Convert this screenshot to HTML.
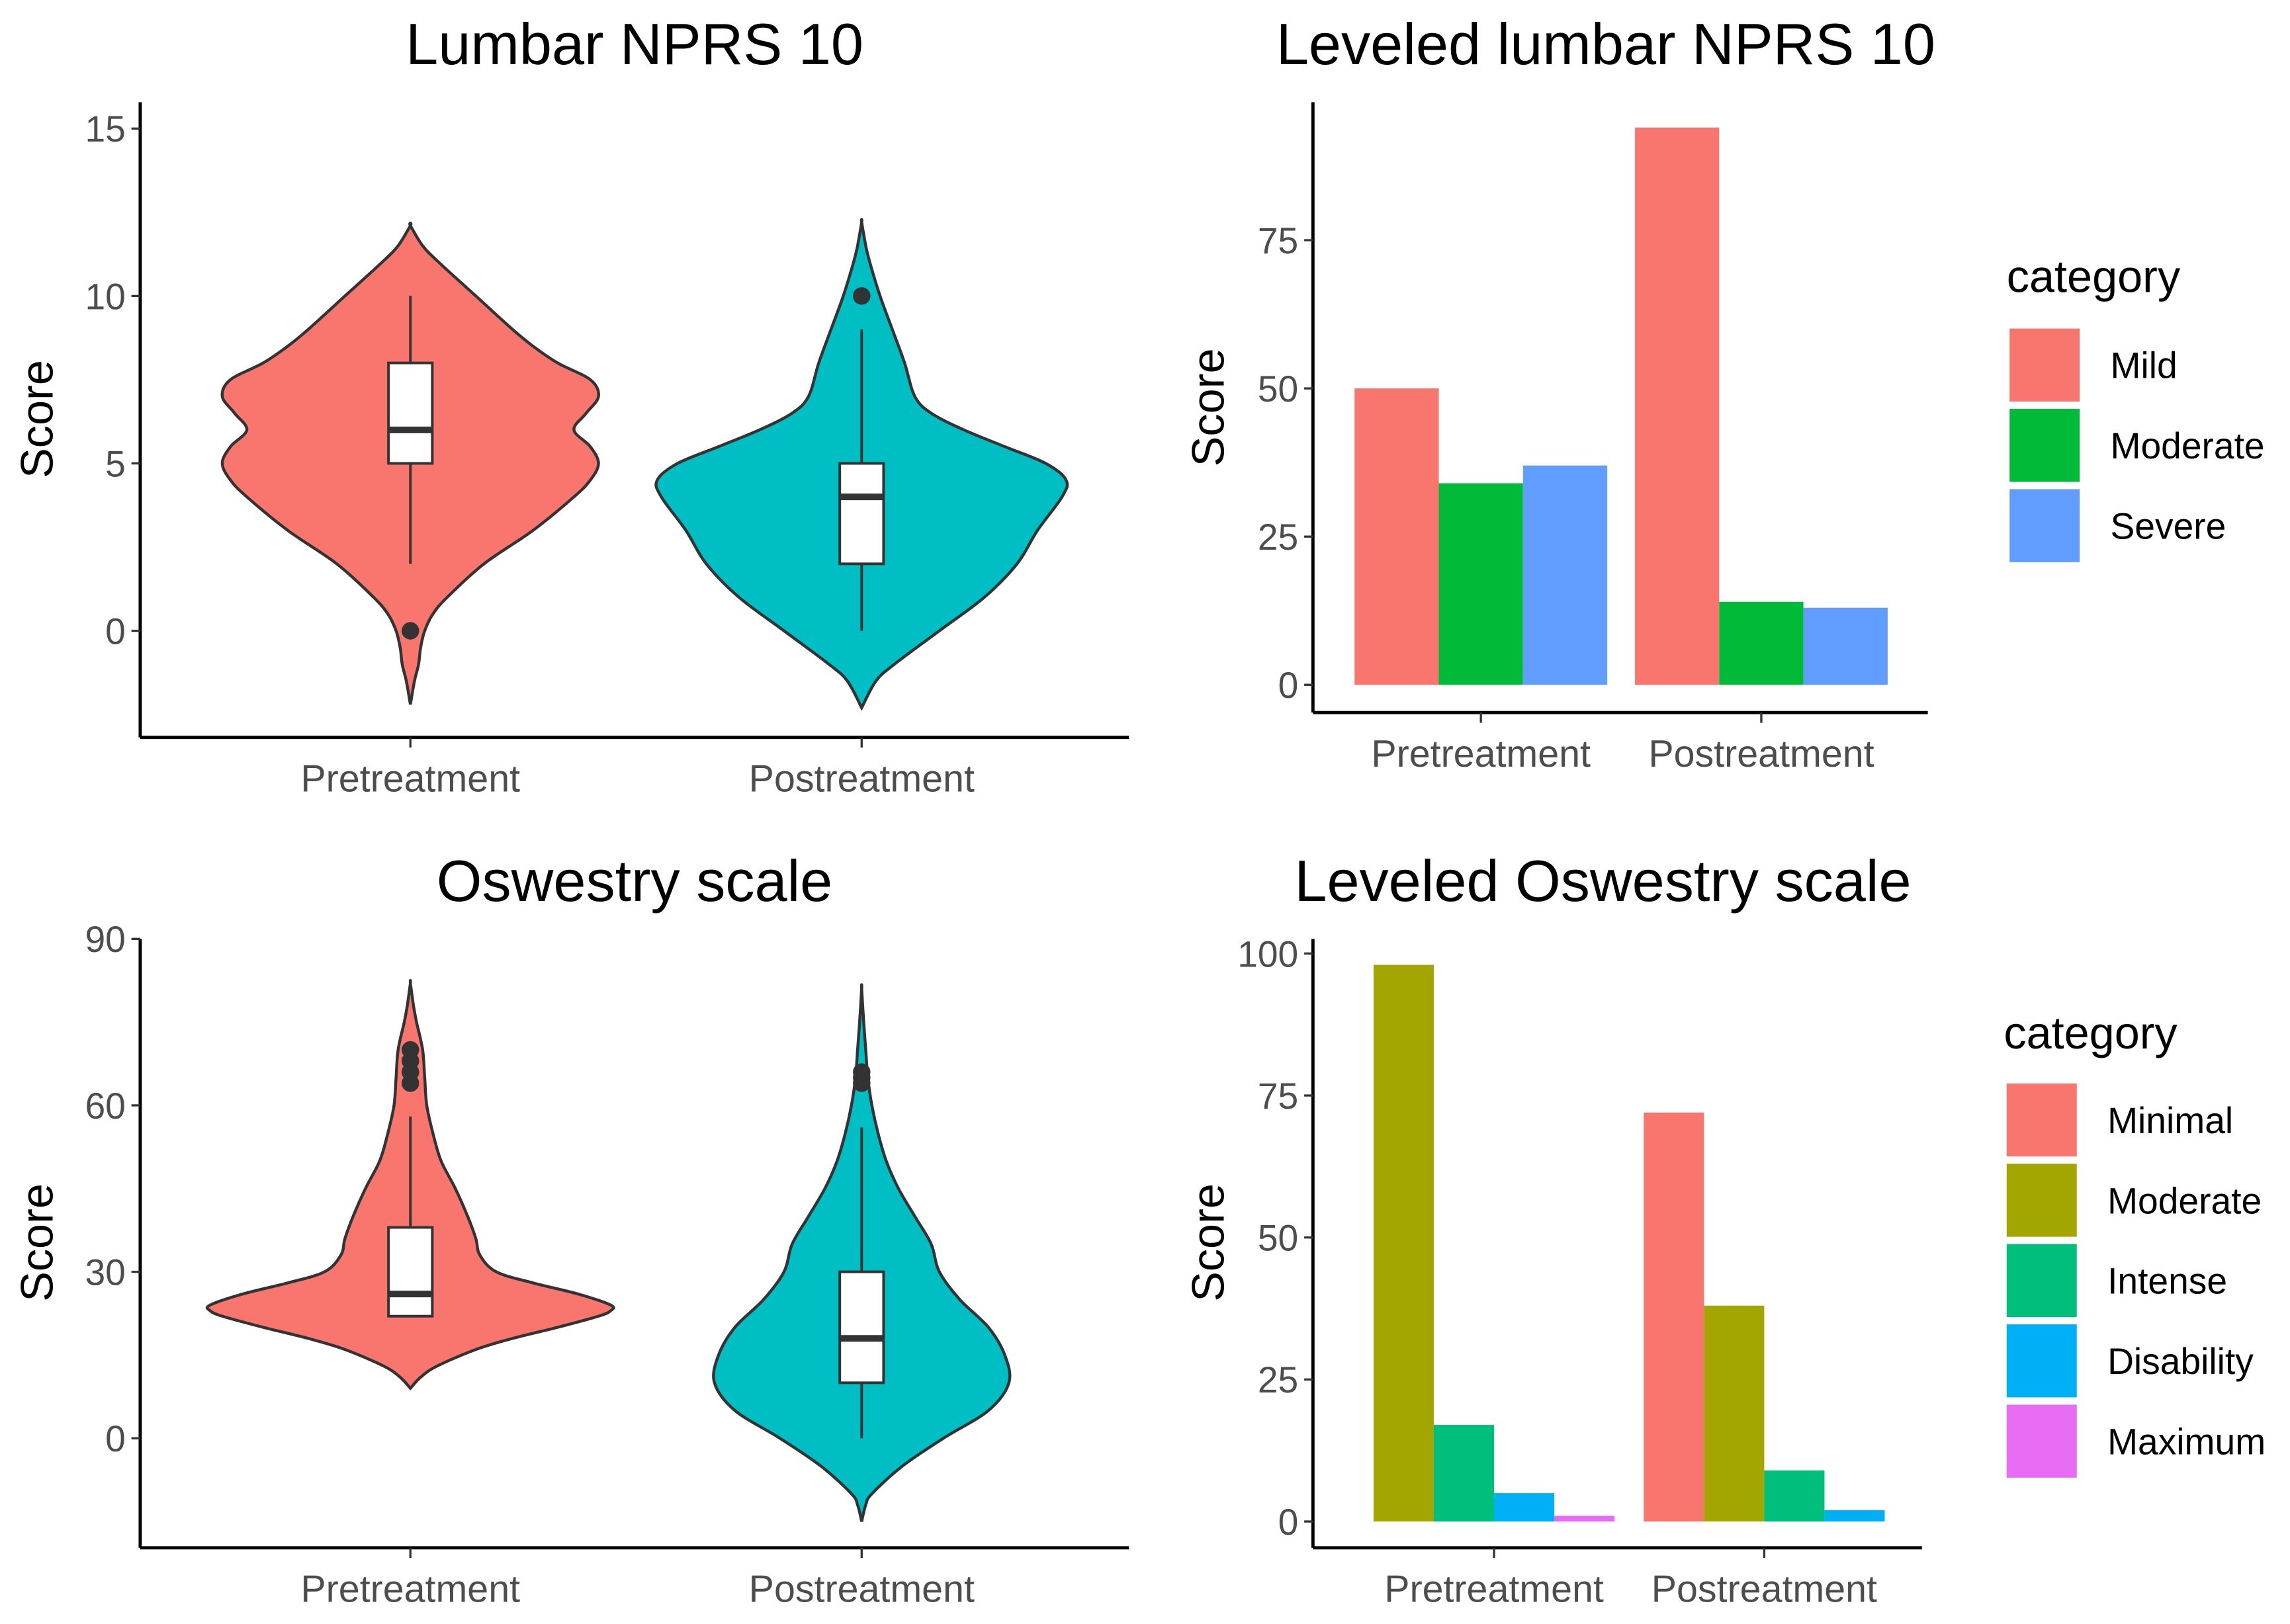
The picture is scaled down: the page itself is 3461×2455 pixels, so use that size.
<!DOCTYPE html>
<html><head><meta charset="utf-8"><style>
html,body{margin:0;padding:0;background:#fff;}
svg{display:block;}
text{font-family:"Liberation Sans",sans-serif;}
</style></head><body>
<svg id="c" width="3461" height="2455" viewBox="0 0 1568 1112.2" preserveAspectRatio="none" xmlns="http://www.w3.org/2000/svg"></svg>
<script>
// ---- Data ----
const groups = ["Pretreatment","Postreatment"];
const nprsPreY = [-2.2,-1.5,-1,-0.5,0,0.5,1,2,3,4,4.5,5,5.5,6,6.5,7,7.5,8,8.5,9,10,11,11.5,12.1];
const nprsPreD = [0,0.02,0.04,0.05,0.07,0.11,0.18,0.36,0.6,0.8,0.88,0.92,0.88,0.8,0.86,0.92,0.88,0.72,0.6,0.5,0.32,0.14,0.06,0];
const nprsPostY = [-2.3,-1.5,-1,0,1,2,3,4,4.5,5,5.5,6,6.5,7,8,9,10,11,11.5,12.2];
const nprsPostD = [0,0.07,0.16,0.38,0.6,0.76,0.86,0.98,1.0,0.9,0.7,0.5,0.34,0.26,0.21,0.15,0.09,0.04,0.02,0];
const nprsBox = [{lo:2,q1:5,med:6,q3:8,hi:10,out:[0]},{lo:0,q1:2,med:4,q3:5,hi:9,out:[10]}];
const oswPreY = [9,11,13,16,18,20,22,23,24,26,28,30,33,36,40,45,50,55,60,65,70,75,78,82];
const oswPreD = [0,0.05,0.13,0.32,0.5,0.72,0.92,0.98,0.98,0.82,0.6,0.42,0.34,0.32,0.28,0.22,0.15,0.11,0.08,0.07,0.06,0.03,0.015,0];
const oswPostY = [-15,-12,-10,-5,0,5,10,15,20,25,30,35,40,45,50,55,60,65,70,75,81];
const oswPostD = [0,0.02,0.05,0.2,0.4,0.62,0.72,0.7,0.62,0.48,0.38,0.34,0.26,0.18,0.12,0.08,0.05,0.03,0.02,0.01,0];
const oswBox = [{lo:22,q1:22,med:26,q3:38,hi:58,out:[64,66,68,70]},{lo:0,q1:10,med:18,q3:30,hi:56,out:[64,65,66]}];
const nprsCats = ["Mild","Moderate","Severe"];
const nprsColors = ["#F8766D","#00BA38","#619CFF"];
const nprsPre = [50,34,37];
const nprsPost = [94,14,13];
const oswCats = ["Minimal","Moderate","Intense","Disability","Maximum"];
const oswColors = ["#F8766D","#A3A500","#00BF7D","#00B0F6","#E76BF3"];
const oswPre = [0,98,17,5,1];
const oswPost = [72,38,9,2,0];

const svg = document.getElementById('c');
const NS = "http://www.w3.org/2000/svg";
function el(tag, attrs, parent){
  const e = document.createElementNS(NS, tag);
  for (const k in attrs) e.setAttribute(k, attrs[k]);
  (parent||svg).appendChild(e);
  return e;
}
function txt(s, x, y, size, fill, anchor, name, rot){
  const t = el('text', {x:x, y:y, 'font-size':size, fill:fill, 'text-anchor':anchor||'middle'});
  if (rot) t.setAttribute('transform', 'rotate(-90 '+x+' '+y+')');
  
  
  t.textContent = s;
  return t;
}
function line(x1,y1,x2,y2,w,name,col){
  const l = el('line',{x1:x1,y1:y1,x2:x2,y2:y2,stroke:col||'#000','stroke-width':w});
  
  
  return l;
}
function axes(x0, yTop, yBot, xEnd, ticks, yScale, catX, title, titleY, prefix){
  txt(title, (x0+xEnd)/2+ (prefix.startsWith('lv')?-10:0), titleY, 40, '#000', 'middle', prefix+'-title');
  line(x0, yTop, x0, yBot, 2.2, prefix+'-y-axis');
  line(x0, yBot, xEnd, yBot, 2.2, prefix+'-x-axis');
  ticks.forEach(v=>{
    const y = yScale(v);
    line(x0-6, y, x0, y, 1.5, prefix+'-y-tick', '#333');
    txt(String(v), x0-10, y+9, 25, '#4d4d4d', 'end', prefix+'-y-tick-label');
  });
  catX.forEach((cx,i)=>{
    line(cx, yBot, cx, yBot+7, 1.5, prefix+'-x-tick', '#333');
    txt(groups[i], cx, yBot+37, 26, '#4d4d4d', 'middle', prefix+'-x-tick-label');
  });
}
function violin(cx, ys, ds, yScale, halfMax, fill, name){
  let pts = [];
  for (let i=0;i<ys.length;i++) pts.push([cx + ds[i]*halfMax, yScale(ys[i])]);
  for (let i=ys.length-1;i>=0;i--) pts.push([cx - ds[i]*halfMax, yScale(ys[i])]);
  let d = 'M'+pts[0][0]+','+pts[0][1];
  for (let i=0;i<pts.length-1;i++){
    const p0=pts[Math.max(i-1,0)], p1=pts[i], p2=pts[i+1], p3=pts[Math.min(i+2,pts.length-1)];
    const c1=[p1[0]+(p2[0]-p0[0])/6, p1[1]+(p2[1]-p0[1])/6];
    const c2=[p2[0]-(p3[0]-p1[0])/6, p2[1]-(p3[1]-p1[1])/6];
    d += ' C'+c1[0]+','+c1[1]+' '+c2[0]+','+c2[1]+' '+p2[0]+','+p2[1];
  }
  d += 'Z';
  const p = el('path',{d:d, fill:fill, stroke:'#333', 'stroke-width':2});
  
  
}
function boxplot(cx, b, yScale, name){
  line(cx, yScale(b.hi), cx, yScale(b.lo), 1.8, name+'-whisker', '#333');
  const r = el('rect',{x:cx-15, y:yScale(b.q3), width:30, height:yScale(b.q1)-yScale(b.q3), fill:'#fff', stroke:'#333','stroke-width':1.8});
  
  
  line(cx-15, yScale(b.med), cx+15, yScale(b.med), 4.5, name+'-median', '#333');
  b.out.forEach(v=>{
    const c = el('circle',{cx:cx, cy:yScale(v), r:6, fill:'#333'});
    
    
  });
}
function bars(catX, width, vals, colors, yScale, name){
  catX.forEach((cx,gi)=>{
    const v = vals[gi];
    const idx = [];
    v.forEach((val,i)=>{ if(val>0) idx.push(i); });
    const n = idx.length, bw = width/n;
    idx.forEach((ci,k)=>{
      const x = cx - width/2 + k*bw;
      const r = el('rect',{x:x, y:yScale(v[ci]), width:bw, height:yScale(0)-yScale(v[ci]), fill:colors[ci]});
      
      
    });
  });
}
function legend(x, titleY, keyTop, cats, colors, name){
  txt('category', x, titleY, 31, '#000', 'start', name+'-legend-title');
  cats.forEach((c,i)=>{
    const y = keyTop + i*55;
    const r = el('rect',{x:x+2, y:y, width:48, height:50, fill:colors[i]});
    
    
    txt(c, x+71, y+34, 25, '#000', 'start', name+'-legend-label');
  });
}

// Panel 1
const y1 = v => 432 - v*22.93;
const cat1 = [281, 590];
axes(96, 70, 505, 773, [0,5,10,15], y1, cat1, 'Lumbar NPRS 10', 44, 'nprs-violin');
txt('Score', 36, 287, 31, '#000', 'middle', 'nprs-violin-y-title', true);
violin(cat1[0], nprsPreY, nprsPreD, y1, 140, '#F8766D', 'violin-pretreatment');
violin(cat1[1], nprsPostY, nprsPostD, y1, 140, '#00BFC4', 'violin-postreatment');
boxplot(cat1[0], nprsBox[0], y1, 'nprs-pre');
boxplot(cat1[1], nprsBox[1], y1, 'nprs-post');

// Panel 2
const y2 = v => 469 - v*4.06;
const cat2 = [1014, 1206];
axes(899, 70, 488, 1320, [0,25,50,75], y2, cat2, 'Leveled lumbar NPRS 10', 44, 'lv-nprs');
txt('Score', 838, 279, 31, '#000', 'middle', 'lv-nprs-y-title', true);
bars(cat2, 173, [nprsPre, nprsPost], nprsColors, y2, 'lv-nprs');
legend(1374, 200, 225, nprsCats, nprsColors, 'lv-nprs');

// Panel 3
const y3 = v => 985 - v*3.8;
axes(96, 643, 1060, 773, [0,30,60,90], y3, cat1, 'Oswestry scale', 617, 'osw-violin');
txt('Score', 36, 851, 31, '#000', 'middle', 'osw-violin-y-title', true);
violin(cat1[0], oswPreY, oswPreD, y3, 140, '#F8766D', 'osw-violin-pretreatment');
violin(cat1[1], oswPostY, oswPostD, y3, 140, '#00BFC4', 'osw-violin-postreatment');
boxplot(cat1[0], oswBox[0], y3, 'osw-pre');
boxplot(cat1[1], oswBox[1], y3, 'osw-post');

// Panel 4
const y4 = v => 1042 - v*3.89;
const cat4 = [1023, 1208];
axes(899, 643, 1060, 1316, [0,25,50,75,100], y4, cat4, 'Leveled Oswestry scale', 617, 'lv-osw');
txt('Score', 838, 851, 31, '#000', 'middle', 'lv-osw-y-title', true);
bars(cat4, 165, [oswPre, oswPost], oswColors, y4, 'lv-osw');
legend(1372, 718, 742, oswCats, oswColors, 'lv-osw');
</script>
</body></html>
